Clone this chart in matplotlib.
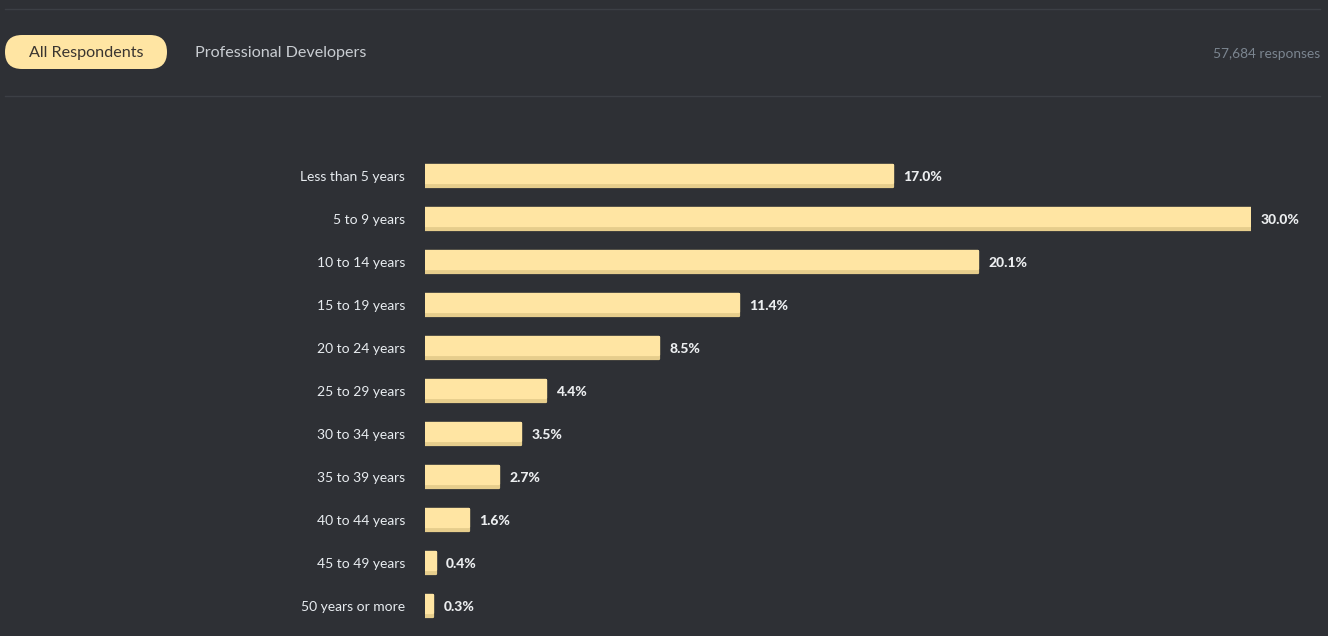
import matplotlib.pyplot as plt
from matplotlib.patches import FancyBboxPatch

categories = [
    "Less than 5 years", "5 to 9 years", "10 to 14 years", "15 to 19 years",
    "20 to 24 years", "25 to 29 years", "30 to 34 years", "35 to 39 years",
    "40 to 44 years", "45 to 49 years", "50 years or more",
]
shares = [17.0, 30.0, 20.1, 11.4, 8.5, 4.4, 3.5, 2.7, 1.6, 0.4, 0.3]
tabs = ["All Respondents", "Professional Developers"]
responses = "57,684 responses"

BG = "#2e3035"
BAR = "#ffe5a3"
SHADE = "#e6cd8c"
W, H = 1328, 636

fig = plt.figure(figsize=(W / 100, H / 100), dpi=100, facecolor=BG)

# header layer in pixel coordinates
hdr = fig.add_axes([0, 0, 1, 1])
hdr.set_xlim(0, W)
hdr.set_ylim(H, 0)
hdr.axis("off")
hdr.set_facecolor(BG)
for y in (8.5, 95.5):
    hdr.plot([5, 1320], [y, y], color="#3c3f45", lw=1)
pill = FancyBboxPatch((5, 35), 162, 34,
                      boxstyle="round,pad=0,rounding_size=17",
                      fc=BAR, ec="none")
hdr.add_patch(pill)
hdr.text(86, 53.5, tabs[0], ha="center", va="center", fontsize=11.6,
         family="Lato", color="#3a3530")
hdr.text(195, 53.5, tabs[1], ha="left", va="center", fontsize=11.6,
         family="Lato", color="#c9cdd2")
hdr.text(1320, 54, responses, ha="right", va="center", fontsize=9.9,
         family="Lato", color="#7b8590")

# bar chart
left, right = 425, 1251
top, row = 154.5, 43
ax = fig.add_axes([left / W, 1 - (top + row * len(categories)) / H,
                   (right - left) / W, row * len(categories) / H])
ax.set_facecolor("none")
ax.set_xlim(0, 30)
ax.set_ylim(len(categories) - 0.5, -0.5)
ax.axis("off")

ypos = list(range(len(categories)))
full = ax.barh(ypos, shares, height=22.5 / row, color=SHADE, align="center")
upper = ax.barh([y - 2 / row for y in ypos], shares, height=18.5 / row,
                color=BAR, align="center")
for b in list(full) + list(upper):
    b.set_edgecolor(b.get_facecolor())
    b.set_linewidth(1.6)
    b.set_joinstyle("round")

for y, v, c in zip(ypos, shares, categories):
    ax.annotate(c, (0, y), xytext=(-20 * 0.72, -0.8), textcoords="offset points",
                ha="right", va="center", fontsize=10, family="Lato",
                color="#e8ecf0")
    ax.annotate(f"{v:.1f}%", (v, y), xytext=(10 * 0.72, -0.8),
                textcoords="offset points", ha="left", va="center",
                fontsize=10, family="Lato", fontweight=900,
                color="#eceef0")

fig.savefig("out.png", dpi=100, facecolor=BG)
